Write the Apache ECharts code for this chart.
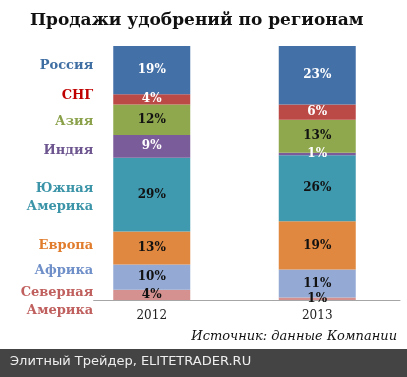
<!DOCTYPE html>
<html>
<head>
<meta charset="utf-8">
<script src="https://cdn.jsdelivr.net/npm/echarts@6/dist/echarts.min.js"></script>
<style>
  html, body { margin: 0; padding: 0; background: #fff; }
  #chart { width: 407px; height: 377px; }
</style>
</head>
<body>
<div id="chart"></div>
<script>
// данные
const years = ["2012", "2013"]
const regions = ["Северная Америка", "Африка", "Европа", "Южная Америка", "Индия", "Азия", "СНГ", "Россия"]
const regionLabels = ["Северная\nАмерика", "Африка", "Европа", "Южная\nАмерика", "Индия", "Азия", "СНГ", "Россия"]
const share2012 = [4, 10, 13, 29, 9, 12, 4, 19]
const share2013 = [1, 11, 19, 26, 1, 13, 6, 23]

// оформление
const barColors = ["#d4918f", "#94aad4", "#e0883f", "#3f9ab0", "#7b5c9a", "#8fa84e", "#bb4a47", "#4470a8"]
const nameColors = ["#c0605e", "#6f8fc9", "#e07c2c", "#3b94a8", "#6d568f", "#8aa14a", "#c00000", "#3f6ea3"]
const valueColors = ["#111", "#111", "#111", "#111", "#fff", "#111", "#fff", "#fff"]
const nameOffsets = [7, -7, -2, 3, 4, 2, -4, -5]

const serif = "'DejaVu Serif', 'Liberation Serif', serif"

const chart = echarts.init(document.getElementById("chart"))

const series = []
regions.forEach((name, i) => {
  // видимые столбцы с процентами
  series.push({
    name: name,
    type: "bar",
    stack: "main",
    barWidth: 77,
    data: [share2012[i], share2013[i]],
    itemStyle: { color: barColors[i] },
    label: {
      show: true,
      position: "inside",
      formatter: "{c}%",
      color: valueColors[i],
      fontFamily: serif,
      fontWeight: "bold",
      fontSize: 12
    }
  })
})
regions.forEach((name, i) => {
  // прозрачный дубль только для подписей регионов слева
  series.push({
    name: name + "_label",
    type: "bar",
    stack: "names",
    barWidth: 77,
    barGap: "-100%",
    silent: true,
    z: 3,
    data: [share2012[i], 0],
    itemStyle: { color: "rgba(0,0,0,0)" },
    label: {
      show: true,
      position: "left",
      distance: 20,
      offset: [0, nameOffsets[i]],
      formatter: (p) => (p.dataIndex === 0 ? regionLabels[i] : ""),
      color: nameColors[i],
      fontFamily: serif,
      fontWeight: "bold",
      fontSize: 13,
      lineHeight: 18,
      align: "right",
      backgroundColor: i === 0 ? "#fff" : "transparent"
    }
  })
})

const option = {
  animation: false,
  title: {
    text: "Продажи удобрений по регионам",
    left: 25,
    top: 7,
    textStyle: {
      fontFamily: serif,
      fontWeight: "bold",
      fontSize: 17,
      color: "#111"
    }
  },
  grid: {
    left: 69,
    right: 7,
    top: 46,
    bottom: 77
  },
  xAxis: {
    type: "category",
    data: years,
    axisLine: { lineStyle: { color: "#a6a6a6" } },
    axisTick: { show: false },
    axisLabel: {
      fontFamily: serif,
      fontSize: 12,
      color: "#222",
      margin: 10
    }
  },
  yAxis: {
    type: "value",
    min: 0,
    max: 100,
    show: false
  },
  graphic: [
    {
      type: "text",
      right: 10,
      top: 330,
      style: {
        text: "Источник: данные Компании",
        font: "italic 13px " + serif,
        fill: "#111"
      }
    },
    {
      type: "rect",
      left: 0,
      top: 349,
      shape: { width: 407, height: 28 },
      style: { fill: "#444444" }
    },
    {
      type: "text",
      left: 10,
      top: 355,
      style: {
        text: "Элитный Трейдер, ELITETRADER.RU",
        font: "13px 'DejaVu Sans', sans-serif",
        fill: "#eeeeee"
      }
    }
  ],
  series: series
}

chart.setOption(option)
</script>
</body>
</html>
